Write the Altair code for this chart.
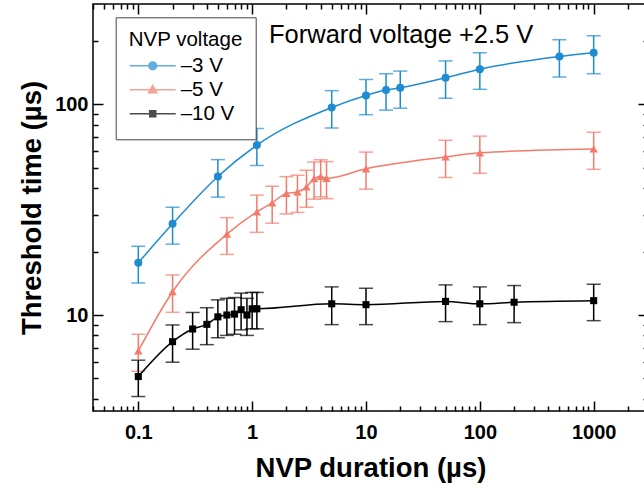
import altair as alt
import pandas as pd

# ---------------- data ----------------
series_names = ["–3 V", "–5 V", "–10 V"]
series_colors = ["#1f8bd0", "#f47b6b", "#000000"]

x_m3 = [0.1, 0.2, 0.5, 1.1, 5, 10, 15, 20, 50, 100, 500, 1000]
y_m3 = [17.7, 27.1, 45.5, 64.1, 96.8, 110.4, 117, 120, 134, 147, 169, 176]
e_m3 = [3.5, 5.4, 9.2, 12.8, 19.5, 21, 23, 24, 27, 29, 34, 36]

x_m5 = [0.1, 0.2, 0.6, 1.1, 1.5, 2, 2.5, 3, 3.5, 4, 4.5, 10, 50, 100, 1000]
y_m5 = [6.75, 12.9, 24.2, 30.9, 34.1, 37.8, 38.4, 40.6, 44.4, 45.5, 44.6, 49.5, 56.3, 58.9, 61.5]
e_m5 = [1.35, 2.6, 4.8, 6.2, 6.8, 7.6, 7.7, 8.1, 8.9, 9.1, 8.9, 9.9, 11.3, 11.8, 12.3]

x_m10 = [0.1, 0.2, 0.3, 0.4, 0.5, 0.6, 0.7, 0.8, 0.9, 1.0, 1.1, 5, 10, 50, 100, 200, 1000]
y_m10 = [5.1, 7.47, 8.58, 9.03, 9.8, 10.0, 10.1, 10.6, 10.0, 10.7, 10.7, 11.3, 11.2, 11.6, 11.3, 11.5, 11.7]
e_m10 = [1.0, 1.5, 1.7, 1.8, 2.0, 2.0, 2.0, 2.1, 2.0, 2.1, 2.1, 2.3, 2.2, 2.3, 2.3, 2.3, 2.3]

x_major = [0.1, 1, 10, 100, 1000]
x_ticks = [0.04, 0.05, 0.06, 0.07, 0.08, 0.09,
           0.1, 0.2, 0.3, 0.4, 0.5, 0.6, 0.7, 0.8, 0.9,
           1, 2, 3, 4, 5, 6, 7, 8, 9,
           10, 20, 30, 40, 50, 60, 70, 80, 90,
           100, 200, 300, 400, 500, 600, 700, 800, 900,
           1000, 2000]
y_major = [10, 100]
y_ticks = [4, 5, 6, 7, 8, 9, 10, 20, 30, 40, 50, 60, 70, 80, 90, 100, 200]

x_domain = [0.04, 3000]
y_domain = [3.5, 300]

annotation = "Forward voltage +2.5 V"

# ---------------- table ----------------
rows = []
for name, xs, ys, es in [(series_names[0], x_m3, y_m3, e_m3),
                         (series_names[1], x_m5, y_m5, e_m5),
                         (series_names[2], x_m10, y_m10, e_m10)]:
    for xv, yv, ev in zip(xs, ys, es):
        rows.append({"series": name, "x": xv, "y": yv, "lo": yv - ev, "hi": yv + ev})
df = pd.DataFrame(rows)

# ---------------- layout ----------------
W, H = 555, 407
FONT = "Liberation Sans"

xs = alt.Scale(type="log", domain=x_domain, nice=False)
ys = alt.Scale(type="log", domain=y_domain, nice=False)
cs = alt.Scale(domain=series_names, range=series_colors)


def major_test(vals):
    return "indexof([" + ",".join(str(v) for v in vals) + "], datum.value) >= 0"


def tick_axis(orient, values, majors, offset):
    return alt.Axis(orient=orient, offset=offset, values=values, labels=False,
                    title="", grid=False, domain=False, ticks=True,
                    tickColor="black", tickWidth=1.5,
                    tickSize={"condition": {"test": major_test(majors), "value": 10},
                              "value": 5})


x_main = alt.Axis(orient="bottom", values=x_major, format="~g", ticks=False, tickSize=0,
                  domain=False, grid=False, labelFont=FONT, labelFontSize=20,
                  labelFontWeight="bold", labelColor="black", labelPadding=11,
                  title="NVP duration (µs)", titleFont=FONT, titleFontSize=27.5,
                  titleFontWeight="bold", titleColor="black",
                  titleBaseline="alphabetic", titleY=65)
y_main = alt.Axis(orient="left", values=y_major, format="~g", ticks=False, tickSize=0,
                  domain=False, grid=False, labelFont=FONT, labelFontSize=20,
                  labelFontWeight="bold", labelColor="black", labelPadding=5,
                  title="Threshold time (µs)", titleFont=FONT, titleFontSize=27.5,
                  titleFontWeight="bold", titleColor="black",
                  titleBaseline="alphabetic", titleX=-53)

# legend symbols: line + marker, one custom path per series
legend_paths = [
    "M-1,0L1,0M-0.17,0A0.17,0.17,0,1,0,0.17,0A0.17,0.17,0,1,0,-0.17,0Z",
    "M-1,0L1,0M0,-0.19L0.18,0.13L-0.18,0.13Z",
    "M-1,0L1,0M-0.13,-0.13L0.13,-0.13L0.13,0.13L-0.13,0.13Z",
]
shape_expr = "datum.value === '{}' ? '{}' : datum.value === '{}' ? '{}' : '{}'".format(
    series_names[0], legend_paths[0], series_names[1], legend_paths[1], legend_paths[2])

legend = alt.Legend(orient="none", legendX=22.7, legendY=13.3, title="NVP voltage",
                    titleFont=FONT, titleFontSize=20.5, titleFontWeight="normal",
                    titleColor="black", titlePadding=3, labelFont=FONT,
                    labelFontSize=20.5, labelColor="black", labelOffset=4,
                    symbolType={"expr": shape_expr},
                    symbolFillColor={"expr": "scale('color', datum.value)"},
                    symbolStrokeColor={"expr": "scale('color', datum.value)"},
                    symbolSize=2116, symbolStrokeWidth=1.5, clipHeight=24,
                    rowPadding=0, padding=13, strokeColor="#444",
                    fillColor="white", cornerRadius=0)

color_enc = alt.Color("series:N", scale=cs, legend=legend)

base = alt.Chart(df)

lines = base.mark_line(interpolate="monotone", strokeWidth=1.5).encode(
    x=alt.X("x:Q", scale=xs, axis=x_main),
    y=alt.Y("y:Q", scale=ys, axis=y_main),
    color=color_enc,
    detail="series:N",
)

errs = base.mark_errorbar(ticks=True, size=14, thickness=1.5).encode(
    x=alt.X("x:Q", scale=xs, axis=None),
    y=alt.Y("lo:Q", scale=ys, axis=None),
    y2="hi:Q",
    color=color_enc,
)

pts_blue = base.transform_filter(alt.datum.series == series_names[0]).mark_point(
    shape="circle", filled=True, size=64, opacity=1).encode(
    x=alt.X("x:Q", scale=xs, axis=tick_axis("top", x_ticks, x_major, -H)),
    y=alt.Y("y:Q", scale=ys, axis=tick_axis("right", y_ticks, y_major, -W)),
    color=color_enc,
)
pts_red = base.transform_filter(alt.datum.series == series_names[1]).mark_point(
    shape="triangle-up", filled=True, size=70, opacity=1).encode(
    x=alt.X("x:Q", scale=xs, axis=tick_axis("bottom", x_ticks, x_major, -H)),
    y=alt.Y("y:Q", scale=ys, axis=tick_axis("left", y_ticks, y_major, -W)),
    color=color_enc,
)
pts_black = base.transform_filter(alt.datum.series == series_names[2]).mark_point(
    shape="square", filled=True, size=50, opacity=1).encode(
    x=alt.X("x:Q", scale=xs, axis=None),
    y=alt.Y("y:Q", scale=ys, axis=None),
    color=color_enc,
)

note = alt.Chart(pd.DataFrame({"t": [annotation]})).mark_text(
    align="left", baseline="alphabetic", font=FONT, fontSize=25.5, color="black"
).encode(text="t:N", x=alt.value(176), y=alt.value(38.7))

chart = alt.layer(errs, lines, pts_blue, pts_red, pts_black, note).resolve_axis(
    x="independent", y="independent"
).properties(
    width=W, height=H,
    autosize=alt.AutoSizeParams(type="none"),
    padding={"left": 93, "top": 4, "right": -4, "bottom": 76},
    background="white",
).configure_view(stroke="black", strokeWidth=1.5)

chart.save("out.html", embed_options={"renderer": "svg", "actions": False})
